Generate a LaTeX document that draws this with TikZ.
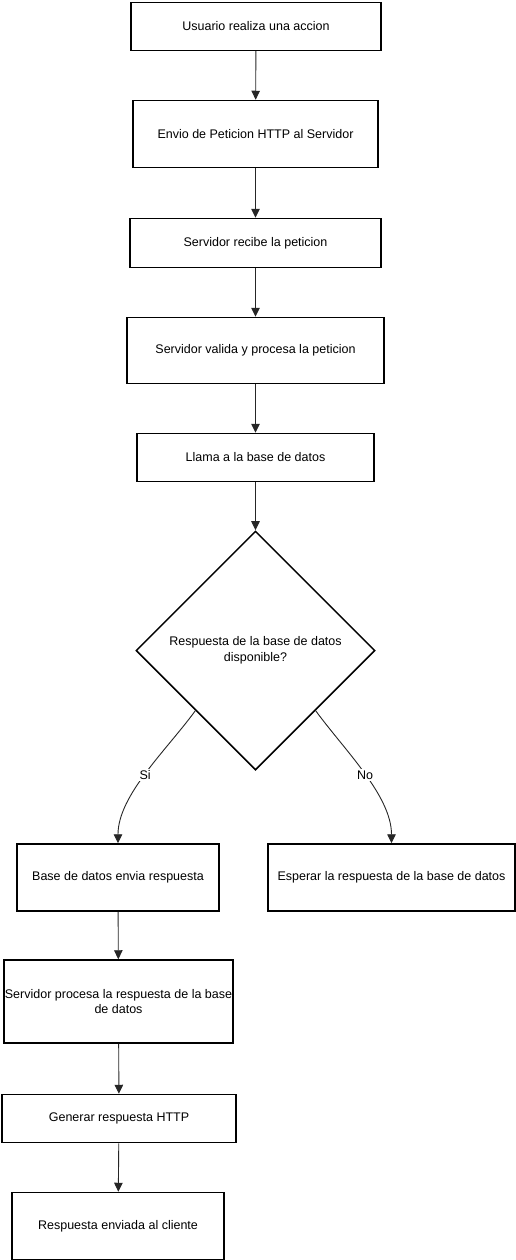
\documentclass[tikz,border=0pt]{standalone}
\usepackage{fontspec}
\setmainfont{Liberation Sans}
\usetikzlibrary{arrows.meta, shapes.geometric}

\begin{document}
\begin{tikzpicture}[
    x=1pt, y=-1pt,
    font=\fontsize{12.5}{15.5}\selectfont,
    every node/.style={inner sep=1pt},
    stepbox/.style={draw=black, line width=1.5pt, fill=white,
                    align=center, inner sep=0pt},
    decision/.style={diamond, aspect=1, draw=black, line width=1.5pt,
                     minimum width=239pt, minimum height=239pt,
                     align=center, inner sep=0pt},
    flow/.style   ={-{Triangle[length=9pt,width=8.5pt]},
                    line width=0.9pt, draw=black!85},
    branch/.style ={fill=white, inner sep=1.5pt},
  ]

  %% --- canvas -----------------------------------------------------------
  \useasboundingbox (0,0) rectangle (516,1260);

  %% =====================================================================
  %% main column
  %% =====================================================================
  \node[stepbox, minimum width=250pt, minimum height=48pt]
        (usuario) at (256,26.5) {Usuario realiza una accion};
  \node[stepbox, minimum width=245pt, minimum height=67pt]
        (envio) at (255.5,134) {Envio de Peticion HTTP al Servidor};
  \node[stepbox, minimum width=251pt, minimum height=49pt]
        (recibe) at (255.5,243) {Servidor recibe la peticion};
  \node[stepbox, minimum width=257pt, minimum height=66pt]
        (valida) at (255.5,350.5) {Servidor valida y procesa la peticion};
  \node[stepbox, minimum width=237pt, minimum height=48pt]
        (llama) at (255.5,457.5) {Llama a la base de datos};

  % decision
  \node[decision] (disponible) at (255.5,650.5)
        {Respuesta de la base de datos\\disponible?};

  %% =====================================================================
  %% branches
  %% =====================================================================
  \node[stepbox, minimum width=202pt, minimum height=67pt]
        (envia) at (118,877.5) {Base de datos envia respuesta};
  \node[stepbox, minimum width=247pt, minimum height=67pt]
        (esperar) at (391.5,877.5) {Esperar la respuesta de la base de datos};

  \node[stepbox, minimum width=229pt, minimum height=83pt]
        (procesa) at (118.5,1001.5)
        {Servidor procesa la respuesta de la base\\de datos};
  \node[stepbox, minimum width=234pt, minimum height=48pt]
        (generar) at (119,1118.5) {Generar respuesta HTTP};
  \node[stepbox, minimum width=212pt, minimum height=67pt]
        (enviada) at (118,1226) {Respuesta enviada al cliente};

  %% --- connectors -------------------------------------------------------
  \draw[flow] (usuario) -- (envio);
  \draw[flow] (envio) -- (recibe);
  \draw[flow] (recibe) -- (valida);
  \draw[flow] (valida) -- (llama);
  \draw[flow] (llama) -- (disponible);

  % yes / no curves with inline labels
  \draw[flow] (disponible.south west) to[out=-126, in=90, looseness=0.8]
        node[branch, pos=0.51] {Si} (envia.north);
  \draw[flow] (disponible.south east) to[out=-54, in=90, looseness=0.8]
        node[branch, pos=0.51] {No} (esperar.north);

  \draw[flow] (envia) -- (procesa);
  \draw[flow] (procesa) -- (generar);
  \draw[flow] (generar) -- (enviada);

\end{tikzpicture}
\end{document}
